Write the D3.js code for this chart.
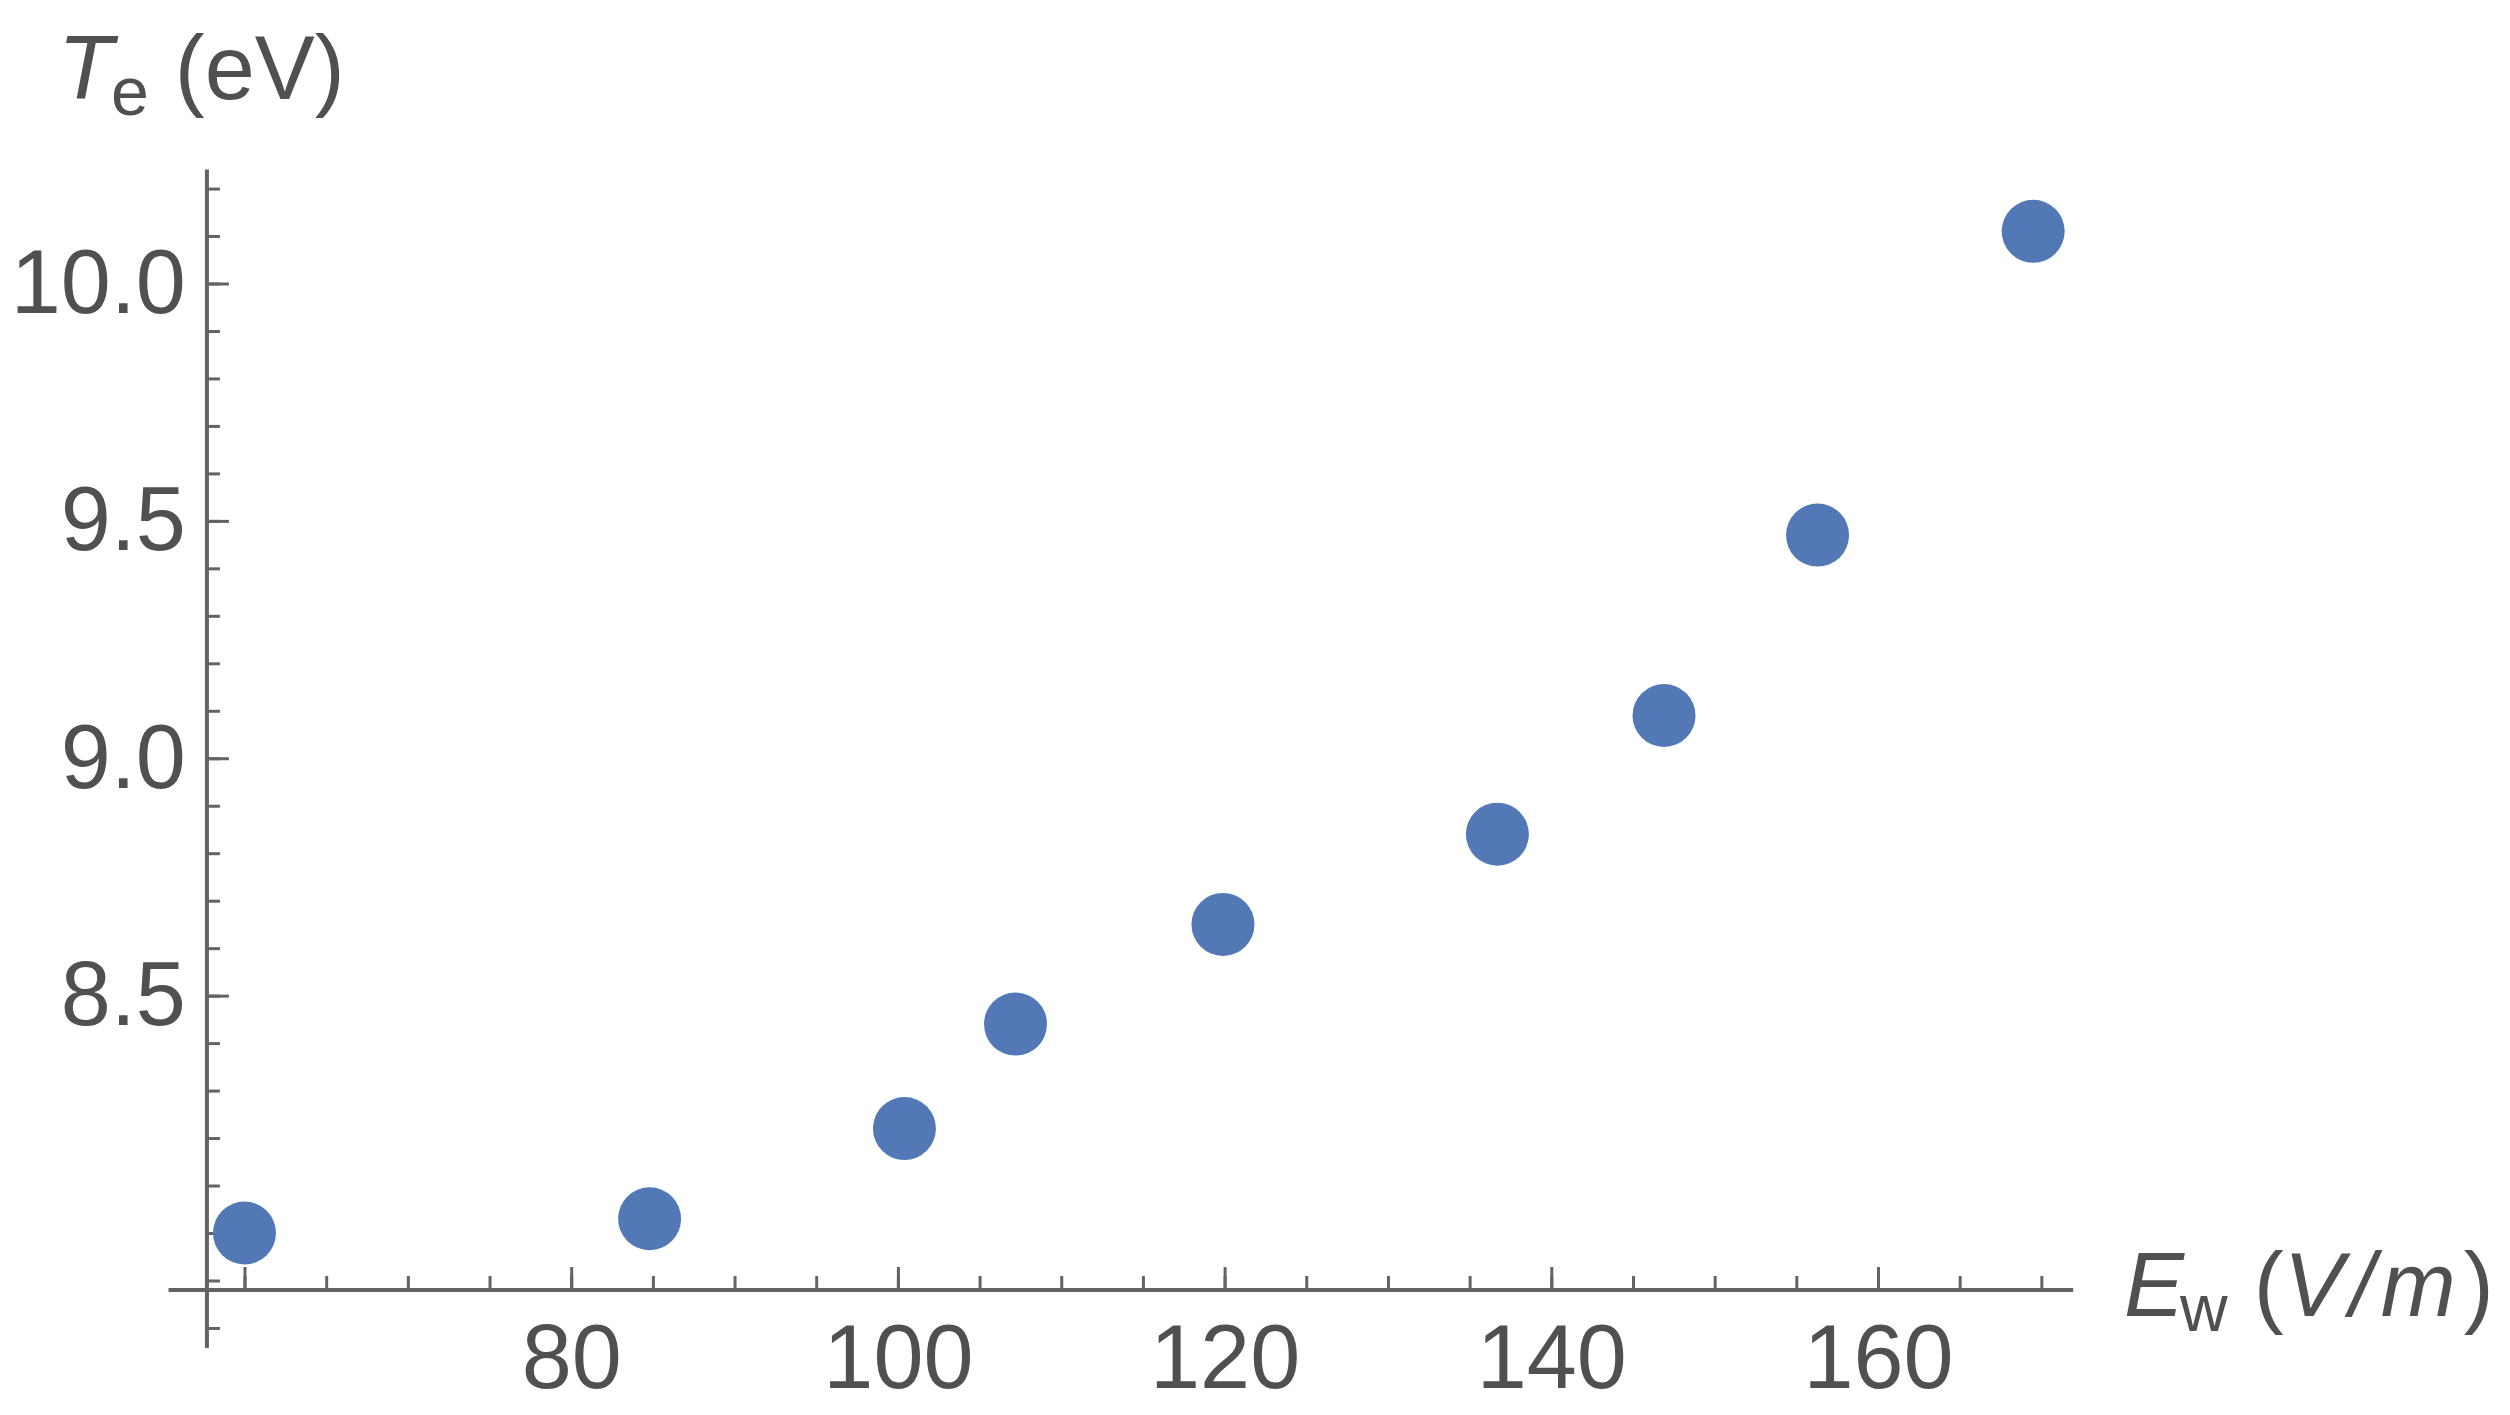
<!DOCTYPE html>
<html>
<head>
<meta charset="utf-8">
<script src="https://cdn.jsdelivr.net/npm/d3@7"></script>
<style>
  body { margin: 0; background: #fff; }
  svg { display: block; font-family: "Liberation Sans", Arial, sans-serif; }
</style>
</head>
<body>
<svg id="chart" width="2510" height="1415"></svg>
<script>
// valeurs : champ E_w (V/m) et température T_e (eV)
const fieldValues = [60, 84.8, 100.4, 107.2, 119.9, 136.7, 146.9, 156.3, 169.5];
const tempValues = [8.0, 8.03, 8.22, 8.44, 8.65, 8.84, 9.09, 9.47, 10.11];

const xMajorTicks = [60, 80, 100, 120, 140, 160];
const xLabelTicks = [80, 100, 120, 140, 160];
const yMajorTicks = [8.0, 8.5, 9.0, 9.5, 10.0];
const yLabelTicks = [8.5, 9.0, 9.5, 10.0];
const xMinorTicks = d3.range(60, 171, 5);
const yMinorTicks = d3.range(78, 103, 1).map(v => v / 10);

// étendue des axes (PlotRange) et point de croisement
const xExtent = [55.35, 171.95];
const yExtent = [7.758, 10.24];
const origin = { x: 57.7, y: 7.88 };

const axisColor = "#636363";
const labelColor = "#505050";
const dotColor = "#5279b5";

const svg = d3.select("#chart");
svg.append("rect").attr("width", 2510).attr("height", 1415).attr("fill", "#fff");

const x = d3.scaleLinear().domain([60, 160]).range([244.5, 1878]);
const y = d3.scaleLinear().domain([8, 10]).range([1233, 283.5]);

// axe horizontal
svg.append("line")
  .attr("x1", x(xExtent[0])).attr("x2", x(xExtent[1]))
  .attr("y1", y(origin.y)).attr("y2", y(origin.y))
  .attr("stroke", axisColor).attr("stroke-width", 4);

// axe vertical
svg.append("line")
  .attr("x1", x(origin.x)).attr("x2", x(origin.x))
  .attr("y1", y(yExtent[0])).attr("y2", y(yExtent[1]))
  .attr("stroke", axisColor).attr("stroke-width", 4);

// graduations secondaires
const xMinor = svg.append("g")
  .attr("transform", `translate(0,${y(origin.y)})`)
  .call(d3.axisBottom(x).tickValues(xMinorTicks).tickSize(-14).tickSizeOuter(0).tickFormat(""));
const yMinor = svg.append("g")
  .attr("transform", `translate(${x(origin.x)},0)`)
  .call(d3.axisLeft(y).tickValues(yMinorTicks).tickSize(-13).tickSizeOuter(0).tickFormat(""));

// graduations principales
const xMajor = svg.append("g")
  .attr("transform", `translate(0,${y(origin.y)})`)
  .call(d3.axisBottom(x).tickValues(xMajorTicks).tickSize(-23).tickSizeOuter(0).tickPadding(34)
    .tickFormat(d => xLabelTicks.includes(d) ? d3.format("d")(d) : ""));
const yMajor = svg.append("g")
  .attr("transform", `translate(${x(origin.x)},0)`)
  .call(d3.axisLeft(y).tickValues(yMajorTicks).tickSize(-22).tickSizeOuter(0).tickPadding(21)
    .tickFormat(d => yLabelTicks.includes(d) ? d3.format(".1f")(d) : ""));

[xMinor, yMinor, xMajor, yMajor].forEach(g => {
  g.select(".domain").remove();
  g.selectAll(".tick line").attr("stroke", axisColor).attr("stroke-width", 3);
  g.selectAll(".tick text")
    .attr("fill", labelColor)
    .style("font-size", "90px")
    .style("font-family", "'Liberation Sans', Arial, sans-serif");
});

// points
svg.append("g")
  .selectAll("circle")
  .data(fieldValues.map((v, i) => [v, tempValues[i]]))
  .join("circle")
  .attr("cx", d => x(d[0]))
  .attr("cy", d => y(d[1]))
  .attr("r", 31.5)
  .attr("fill", dotColor);

// titre de l'axe vertical
const yTitle = svg.append("text")
  .attr("x", 58).attr("y", 99)
  .attr("fill", labelColor)
  .style("font-size", "90px");
yTitle.append("tspan").style("font-style", "italic").text("T");
yTitle.append("tspan").attr("dx", -2).attr("dy", 16).style("font-size", "68px").text("e");
yTitle.append("tspan").attr("dx", 26).attr("dy", -16).text("(eV)");

// titre de l'axe horizontal
const xTitle = svg.append("text")
  .attr("x", 2124).attr("y", 1316)
  .attr("fill", labelColor)
  .style("font-size", "90px");
xTitle.append("tspan").style("font-style", "italic").text("E");
xTitle.append("tspan").attr("dx", -4).attr("dy", 15).style("font-size", "66px").text("w");
xTitle.append("tspan").attr("dx", 26).attr("dy", -15).text("(");
xTitle.append("tspan").style("font-style", "italic").style("letter-spacing", "6px").text("V/m");
xTitle.append("tspan").attr("dx", 2).text(")");
</script>
</body>
</html>
